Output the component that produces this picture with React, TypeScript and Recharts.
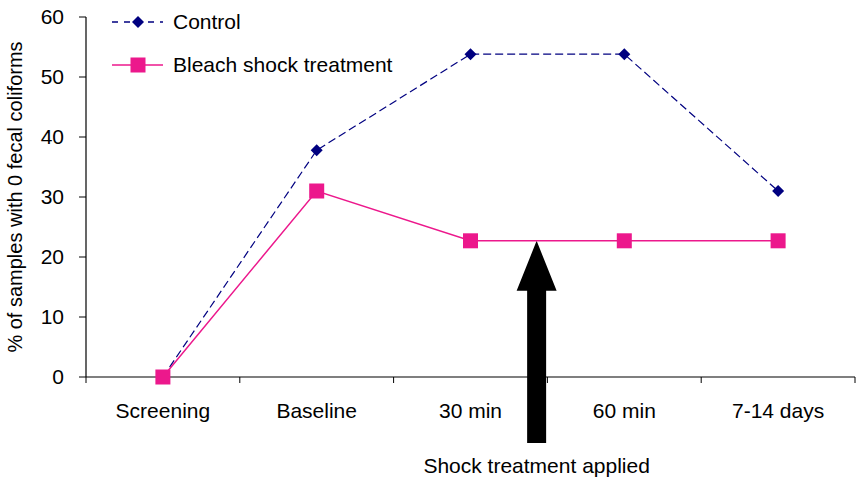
import React from "react";
import {
  LineChart,
  Line,
  XAxis,
  YAxis,
  Customized,
} from "recharts";

const categories = ["Screening", "Baseline", "30 min", "60 min", "7-14 days"];
const controlValues = [0, 37.8, 53.8, 53.8, 31];
const bleachValues = [0, 31, 22.7, 22.7, 22.7];
const yTicks = [0, 10, 20, 30, 40, 50, 60];
const shockLevel = 22.7;

const W = 859;
const H = 478;
const PLOT_LEFT = 86;
const PLOT_RIGHT = 855;
const PLOT_TOP = 17;
const PLOT_BOTTOM = 377;
const PLOT_W = PLOT_RIGHT - PLOT_LEFT;
const PLOT_H = PLOT_BOTTOM - PLOT_TOP;
const STEP = PLOT_W / categories.length;
const X_AXIS_H = 30;

const NAVY = "#000080";
const PINK = "#EC188C";
const FONT = "'Liberation Sans', Arial, sans-serif";

const data = categories.map((c, i) => ({
  name: c,
  control: controlValues[i],
  bleach: bleachValues[i],
}));

const yPx = (v: number) => PLOT_BOTTOM - (v / 60) * PLOT_H;

function Diamond(props: any) {
  const { cx, cy } = props;
  if (cx == null || cy == null) return null;
  const r = 6;
  return (
    <path
      d={`M${cx},${cy - r}L${cx + r},${cy}L${cx},${cy + r}L${cx - r},${cy}Z`}
      fill={NAVY}
    />
  );
}

function Square(props: any) {
  const { cx, cy } = props;
  if (cx == null || cy == null) return null;
  const s = 7.5;
  return <rect x={cx - s} y={cy - s} width={s * 2} height={s * 2} fill={PINK} />;
}

function XTick(props: any) {
  const { x, payload, index } = props;
  return (
    <g>
      <line x1={x - STEP / 2} x2={x - STEP / 2} y1={PLOT_BOTTOM} y2={PLOT_BOTTOM + 6} stroke="#000" />
      {index === categories.length - 1 && (
        <line x1={x + STEP / 2} x2={x + STEP / 2} y1={PLOT_BOTTOM} y2={PLOT_BOTTOM + 6} stroke="#000" />
      )}
      <text
        x={x}
        y={PLOT_BOTTOM + 41}
        textAnchor="middle"
        fontSize={21}
        fontFamily={FONT}
        fill="#000"
      >
        {payload.value}
      </text>
    </g>
  );
}

function Extras() {
  const arrowX = PLOT_LEFT + 2.93 * STEP;
  const tipY = yPx(shockLevel);
  const headY = tipY + 50;
  const baseY = 443;
  return (
    <g fontFamily={FONT}>
      <text
        transform={`translate(22, ${(PLOT_TOP + PLOT_BOTTOM) / 2}) rotate(-90)`}
        textAnchor="middle"
        fontSize={20}
        fill="#000"
      >
        % of samples with 0 fecal coliforms
      </text>

      {/* legend */}
      <line x1={112} x2={163} y1={22} y2={22} stroke={NAVY} strokeWidth={1.5} strokeDasharray="6 6" />
      <Diamond cx={138} cy={22} />
      <text x={173} y={29} fontSize={21} fill="#000">Control</text>
      <line x1={112} x2={163} y1={65} y2={65} stroke={PINK} strokeWidth={1.5} />
      <Square cx={138} cy={65} />
      <text x={173} y={72} fontSize={21} fill="#000">Bleach shock treatment</text>

      {/* arrow */}
      <path
        d={`M${arrowX},${tipY} L${arrowX + 20},${headY} L${arrowX + 9.5},${headY} L${arrowX + 9.5},${baseY} L${arrowX - 9.5},${baseY} L${arrowX - 9.5},${headY} L${arrowX - 20},${headY} Z`}
        fill="#000"
      />
      <text x={arrowX} y={473} textAnchor="middle" fontSize={21} fill="#000">
        Shock treatment applied
      </text>
    </g>
  );
}

export default function App() {
  return (
    <div style={{ position: "absolute", left: 0, top: 0, width: W, height: H, background: "#fff" }}>
      <LineChart
        width={W}
        height={H}
        data={data}
        margin={{ top: PLOT_TOP, right: W - PLOT_RIGHT, left: 0, bottom: H - PLOT_BOTTOM - X_AXIS_H }}
      >
        <XAxis
          dataKey="name"
          scale="point"
          padding={{ left: STEP / 2, right: STEP / 2 }}
          height={X_AXIS_H}
          tickLine={false}
          axisLine={{ stroke: "#000", strokeWidth: 1.2 }}
          tick={<XTick />}
          interval={0}
        />
        <YAxis
          domain={[0, 60]}
          ticks={yTicks}
          width={PLOT_LEFT}
          tickSize={7}
          tickMargin={15}
          axisLine={{ stroke: "#000", strokeWidth: 1.2 }}
          tickLine={{ stroke: "#000" }}
          tick={{ fill: "#000", fontSize: 21, fontFamily: FONT }}
        />
        <Line
          dataKey="control"
          stroke={NAVY}
          strokeWidth={1.2}
          strokeDasharray="8 4"
          dot={<Diamond />}
          activeDot={false}
          isAnimationActive={false}
        />
        <Line
          dataKey="bleach"
          stroke={PINK}
          strokeWidth={1.5}
          dot={<Square />}
          activeDot={false}
          isAnimationActive={false}
        />
        <Customized component={Extras} />
      </LineChart>
    </div>
  );
}
